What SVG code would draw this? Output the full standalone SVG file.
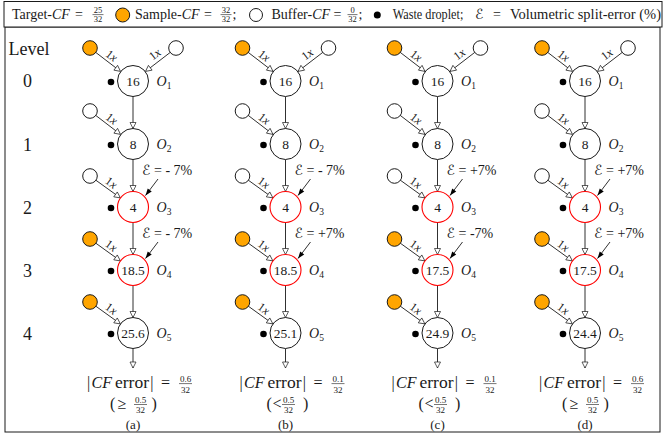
<svg xmlns="http://www.w3.org/2000/svg" width="664" height="434" viewBox="0 0 664 434" font-family="'Liberation Serif', 'Times New Roman', serif">
<style>
text{font-family:'Liberation Serif','Times New Roman',serif;fill:#1a1a1a}
.n{fill:#fff;stroke:#1a1a1a;stroke-width:1}
.r{fill:#fff;stroke:#f00;stroke-width:1.1}
.s{fill:#FFA500;stroke:#1a1a1a;stroke-width:1}
.b{fill:#fff;stroke:#1a1a1a;stroke-width:1}
.w{fill:#000}
.v{font-size:13.5px;text-anchor:middle}
.o{font-size:14px;font-style:italic}
.sub{font-size:9.5px;font-style:normal}
.lx{font-size:12px;text-anchor:middle}
.lv{font-size:18px;text-anchor:middle}
.e{font-size:14px}
.cal{font-family:'DejaVu Serif','DejaVu Sans',serif;font-style:italic}
.it{font-style:italic}
.f{font-size:9px;text-anchor:middle}
.fb{stroke:#1a1a1a;stroke-width:0.6}
.big{font-size:16px}
.cap{font-size:13px;text-anchor:middle}
.hd{font-size:14px}
.hf{font-size:8.5px;text-anchor:middle}
.c{stroke:#1a1a1a;stroke-width:0.9;fill:none}
.ca{marker-end:url(#open)}
.ce{marker-end:url(#fill)}
</style>
<defs>
<marker id="open" markerUnits="userSpaceOnUse" markerWidth="10" markerHeight="10" refX="6" refY="3" orient="auto" overflow="visible"><path d="M0,0 L6,3 L0,6 z" fill="#fff" stroke="#1a1a1a" stroke-width="0.7"/></marker>
<marker id="fill" markerUnits="userSpaceOnUse" markerWidth="10" markerHeight="10" refX="7" refY="2.5" orient="auto" overflow="visible"><path d="M0,0 L7,2.5 L0,5 z" fill="#000"/></marker>
</defs>
<rect x="5" y="27" width="655" height="405" fill="none" stroke="#1a1a1a" stroke-width="1"/>
<g id="legend">
<rect x="4" y="1.5" width="658" height="25.5" fill="#fff" stroke="#1a1a1a" stroke-width="1"/>
<text class="hd" x="12" y="19">Target-<tspan class="it">CF</tspan></text>
<text class="hd" x="75" y="19">=</text>
<text class="hf" x="98" y="12.5">25</text><line class="fb" x1="92.5" y1="14.6" x2="103.5" y2="14.6"/><text class="hf" x="98" y="22">32</text>
<circle class="s" cx="122.7" cy="15" r="7"/>
<text class="hd" x="135" y="19">Sample-<tspan class="it">CF</tspan></text>
<text class="hd" x="204" y="19">=</text>
<text class="hf" x="226" y="12.5">32</text><line class="fb" x1="220.5" y1="14.6" x2="231.5" y2="14.6"/><text class="hf" x="226" y="22">32</text>
<text class="hd" x="232.5" y="19">;</text>
<circle class="b" cx="256" cy="15" r="6.5"/>
<text class="hd" x="271.5" y="19">Buffer-<tspan class="it">CF</tspan></text>
<text class="hd" x="333.5" y="19">=</text>
<text class="hf" x="352.5" y="12.5">0</text><line class="fb" x1="347.5" y1="14.6" x2="357.5" y2="14.6"/><text class="hf" x="352.5" y="22">32</text>
<text class="hd" x="358.5" y="19">;</text>
<circle class="w" cx="377.3" cy="15" r="3.5"/>
<text class="hd" x="392.7" y="19" textLength="70.6" lengthAdjust="spacingAndGlyphs">Waste droplet;</text>
<text class="hd cal" x="475" y="19">ℰ</text>
<text class="hd" x="493" y="19">=</text>
<text class="hd" x="510" y="19" textLength="151" lengthAdjust="spacingAndGlyphs">Volumetric split-error (%)</text>
</g>
<g id="levels">
<text class="lv" x="29" y="55">Level</text>
<text class="lv" x="27.5" y="87">0</text>
<text class="lv" x="27.5" y="150.5">1</text>
<text class="lv" x="27.5" y="213.5">2</text>
<text class="lv" x="27.5" y="276.5">3</text>
<text class="lv" x="27.5" y="339.5">4</text>
</g>
<g id="connectors">
<g transform="translate(133,0)">
<line class="c ca" x1="-37.45" y1="52.26" x2="-12.5" y2="71.4"/>
<line class="c ca" x1="37.45" y1="52.26" x2="12.5" y2="71.4"/>
<line class="c ca" x1="-37.45" y1="115.26" x2="-12.5" y2="134.4"/>
<line class="c ca" x1="-37.3" y1="180.1" x2="-12.6" y2="197.9"/>
<line class="c ca" x1="-37.3" y1="243.1" x2="-12.6" y2="260.9"/>
<line class="c ca" x1="-37.3" y1="306.1" x2="-12.6" y2="323.9"/>
<line class="c ca" x1="0" y1="96.5" x2="0" y2="128.5"/>
<line class="c ca" x1="0" y1="159.5" x2="0" y2="191.5"/>
<line class="c ca" x1="0" y1="222.5" x2="0" y2="254.5"/>
<line class="c ca" x1="0" y1="285.5" x2="0" y2="317.5"/>
<line class="c ca" x1="0" y1="348.5" x2="0" y2="368"/>
<line class="c ce" x1="25" y1="179" x2="12.5" y2="195.5"/>
<line class="c ce" x1="25" y1="242" x2="12.5" y2="258.5"/>
<text class="lx" transform="translate(-22,56.5) rotate(37.5)" y="3"><tspan>1</tspan><tspan class="it">x</tspan></text>
<text class="lx" transform="translate(22.5,55) rotate(-37.5)" y="3"><tspan>1</tspan><tspan class="it">x</tspan></text>
<text class="lx" transform="translate(-22,119.5) rotate(37.5)" y="3"><tspan>1</tspan><tspan class="it">x</tspan></text>
<text class="lx" transform="translate(-22.3,183.5) rotate(35.8)" y="3"><tspan>1</tspan><tspan class="it">x</tspan></text>
<text class="lx" transform="translate(-22.3,246.5) rotate(35.8)" y="3"><tspan>1</tspan><tspan class="it">x</tspan></text>
<text class="lx" transform="translate(-22.3,309.5) rotate(35.8)" y="3"><tspan>1</tspan><tspan class="it">x</tspan></text>
<text class="e" x="9" y="175"><tspan class="cal">ℰ</tspan><tspan x="21">= - 7%</tspan></text>
<text class="e" x="9" y="238"><tspan class="cal">ℰ</tspan><tspan x="21">= - 7%</tspan></text>
</g>
<g transform="translate(285.5,0)">
<line class="c ca" x1="-37.45" y1="52.26" x2="-12.5" y2="71.4"/>
<line class="c ca" x1="37.45" y1="52.26" x2="12.5" y2="71.4"/>
<line class="c ca" x1="-37.45" y1="115.26" x2="-12.5" y2="134.4"/>
<line class="c ca" x1="-37.3" y1="180.1" x2="-12.6" y2="197.9"/>
<line class="c ca" x1="-37.3" y1="243.1" x2="-12.6" y2="260.9"/>
<line class="c ca" x1="-37.3" y1="306.1" x2="-12.6" y2="323.9"/>
<line class="c ca" x1="0" y1="96.5" x2="0" y2="128.5"/>
<line class="c ca" x1="0" y1="159.5" x2="0" y2="191.5"/>
<line class="c ca" x1="0" y1="222.5" x2="0" y2="254.5"/>
<line class="c ca" x1="0" y1="285.5" x2="0" y2="317.5"/>
<line class="c ca" x1="0" y1="348.5" x2="0" y2="368"/>
<line class="c ce" x1="25" y1="179" x2="12.5" y2="195.5"/>
<line class="c ce" x1="25" y1="242" x2="12.5" y2="258.5"/>
<text class="lx" transform="translate(-22,56.5) rotate(37.5)" y="3"><tspan>1</tspan><tspan class="it">x</tspan></text>
<text class="lx" transform="translate(22.5,55) rotate(-37.5)" y="3"><tspan>1</tspan><tspan class="it">x</tspan></text>
<text class="lx" transform="translate(-22,119.5) rotate(37.5)" y="3"><tspan>1</tspan><tspan class="it">x</tspan></text>
<text class="lx" transform="translate(-22.3,183.5) rotate(35.8)" y="3"><tspan>1</tspan><tspan class="it">x</tspan></text>
<text class="lx" transform="translate(-22.3,246.5) rotate(35.8)" y="3"><tspan>1</tspan><tspan class="it">x</tspan></text>
<text class="lx" transform="translate(-22.3,309.5) rotate(35.8)" y="3"><tspan>1</tspan><tspan class="it">x</tspan></text>
<text class="e" x="9" y="175"><tspan class="cal">ℰ</tspan><tspan x="21">= - 7%</tspan></text>
<text class="e" x="9" y="238"><tspan class="cal">ℰ</tspan><tspan x="21">= +7%</tspan></text>
</g>
<g transform="translate(437.5,0)">
<line class="c ca" x1="-37.45" y1="52.26" x2="-12.5" y2="71.4"/>
<line class="c ca" x1="37.45" y1="52.26" x2="12.5" y2="71.4"/>
<line class="c ca" x1="-37.45" y1="115.26" x2="-12.5" y2="134.4"/>
<line class="c ca" x1="-37.3" y1="180.1" x2="-12.6" y2="197.9"/>
<line class="c ca" x1="-37.3" y1="243.1" x2="-12.6" y2="260.9"/>
<line class="c ca" x1="-37.3" y1="306.1" x2="-12.6" y2="323.9"/>
<line class="c ca" x1="0" y1="96.5" x2="0" y2="128.5"/>
<line class="c ca" x1="0" y1="159.5" x2="0" y2="191.5"/>
<line class="c ca" x1="0" y1="222.5" x2="0" y2="254.5"/>
<line class="c ca" x1="0" y1="285.5" x2="0" y2="317.5"/>
<line class="c ca" x1="0" y1="348.5" x2="0" y2="368"/>
<line class="c ce" x1="25" y1="179" x2="12.5" y2="195.5"/>
<line class="c ce" x1="25" y1="242" x2="12.5" y2="258.5"/>
<text class="lx" transform="translate(-22,56.5) rotate(37.5)" y="3"><tspan>1</tspan><tspan class="it">x</tspan></text>
<text class="lx" transform="translate(22.5,55) rotate(-37.5)" y="3"><tspan>1</tspan><tspan class="it">x</tspan></text>
<text class="lx" transform="translate(-22,119.5) rotate(37.5)" y="3"><tspan>1</tspan><tspan class="it">x</tspan></text>
<text class="lx" transform="translate(-22.3,183.5) rotate(35.8)" y="3"><tspan>1</tspan><tspan class="it">x</tspan></text>
<text class="lx" transform="translate(-22.3,246.5) rotate(35.8)" y="3"><tspan>1</tspan><tspan class="it">x</tspan></text>
<text class="lx" transform="translate(-22.3,309.5) rotate(35.8)" y="3"><tspan>1</tspan><tspan class="it">x</tspan></text>
<text class="e" x="9" y="175"><tspan class="cal">ℰ</tspan><tspan x="21">= +7%</tspan></text>
<text class="e" x="9" y="238"><tspan class="cal">ℰ</tspan><tspan x="21">= -7%</tspan></text>
</g>
<g transform="translate(585,0)">
<line class="c ca" x1="-37.45" y1="52.26" x2="-12.5" y2="71.4"/>
<line class="c ca" x1="37.45" y1="52.26" x2="12.5" y2="71.4"/>
<line class="c ca" x1="-37.45" y1="115.26" x2="-12.5" y2="134.4"/>
<line class="c ca" x1="-37.3" y1="180.1" x2="-12.6" y2="197.9"/>
<line class="c ca" x1="-37.3" y1="243.1" x2="-12.6" y2="260.9"/>
<line class="c ca" x1="-37.3" y1="306.1" x2="-12.6" y2="323.9"/>
<line class="c ca" x1="0" y1="96.5" x2="0" y2="128.5"/>
<line class="c ca" x1="0" y1="159.5" x2="0" y2="191.5"/>
<line class="c ca" x1="0" y1="222.5" x2="0" y2="254.5"/>
<line class="c ca" x1="0" y1="285.5" x2="0" y2="317.5"/>
<line class="c ca" x1="0" y1="348.5" x2="0" y2="368"/>
<line class="c ce" x1="25" y1="179" x2="12.5" y2="195.5"/>
<line class="c ce" x1="25" y1="242" x2="12.5" y2="258.5"/>
<text class="lx" transform="translate(-22,56.5) rotate(37.5)" y="3"><tspan>1</tspan><tspan class="it">x</tspan></text>
<text class="lx" transform="translate(22.5,55) rotate(-37.5)" y="3"><tspan>1</tspan><tspan class="it">x</tspan></text>
<text class="lx" transform="translate(-22,119.5) rotate(37.5)" y="3"><tspan>1</tspan><tspan class="it">x</tspan></text>
<text class="lx" transform="translate(-22.3,183.5) rotate(35.8)" y="3"><tspan>1</tspan><tspan class="it">x</tspan></text>
<text class="lx" transform="translate(-22.3,246.5) rotate(35.8)" y="3"><tspan>1</tspan><tspan class="it">x</tspan></text>
<text class="lx" transform="translate(-22.3,309.5) rotate(35.8)" y="3"><tspan>1</tspan><tspan class="it">x</tspan></text>
<text class="e" x="9" y="175"><tspan class="cal">ℰ</tspan><tspan x="21">= +7%</tspan></text>
<text class="e" x="9" y="238"><tspan class="cal">ℰ</tspan><tspan x="21">= +7%</tspan></text>
</g>
</g>
<g id="col-a" transform="translate(133,0)">
<g id="a-in0s"><circle class="s" cx="-43" cy="48" r="7.3"/></g>
<g id="a-in0b"><circle class="b" cx="43" cy="48" r="7.3"/></g>
<g id="a-in1"><circle class="b" cx="-43" cy="111" r="7.3"/></g>
<g id="a-in2"><circle class="b" cx="-43" cy="176" r="7.3"/></g>
<g id="a-in3"><circle class="s" cx="-43" cy="239" r="7.3"/></g>
<g id="a-in4"><circle class="s" cx="-43" cy="302" r="7.3"/></g>
<g id="a-O1"><circle class="n" cx="0" cy="81" r="15.5"/><text class="v" x="0" y="85.5">16</text><circle class="w" cx="-22" cy="82" r="3.3"/><text class="o" x="23.5" y="86">O<tspan class="sub" dy="3">1</tspan></text></g>
<g id="a-O2"><circle class="n" cx="0" cy="144" r="15.5"/><text class="v" x="0" y="148.5">8</text><circle class="w" cx="-22" cy="145" r="3.3"/><text class="o" x="23.5" y="149">O<tspan class="sub" dy="3">2</tspan></text></g>
<g id="a-O3"><circle class="r" cx="0" cy="207" r="15.5"/><text class="v" x="0" y="211.5">4</text><circle class="w" cx="-22" cy="208" r="3.3"/><text class="o" x="23.5" y="212">O<tspan class="sub" dy="3">3</tspan></text></g>
<g id="a-O4"><circle class="r" cx="0" cy="270" r="15.5"/><text class="v" x="0" y="274.5">18.5</text><circle class="w" cx="-22" cy="271" r="3.3"/><text class="o" x="23.5" y="275">O<tspan class="sub" dy="3">4</tspan></text></g>
<g id="a-O5"><circle class="n" cx="0" cy="333" r="15.5"/><text class="v" x="0" y="337.5">25.6</text><circle class="w" cx="-22" cy="334" r="3.3"/><text class="o" x="23.5" y="338">O<tspan class="sub" dy="3">5</tspan></text></g>
<g id="a-res">
<text class="big" x="-46" y="388">|</text><text class="big it" x="-41.5" y="388">CF</text><text class="big" x="-18" y="388" textLength="34" lengthAdjust="spacingAndGlyphs">error</text><text class="big" x="17.3" y="388">|</text><text class="big" x="28" y="388">=</text>
<text class="f" x="52.5" y="381.5">0.6</text><line class="fb" x1="46" y1="383.6" x2="59" y2="383.6"/><text class="f" x="52.5" y="392.5">32</text>
<text class="big" x="-23" y="408.5">(</text><text class="big" x="-15.5" y="408.5">≥</text>
<text class="f" x="7.5" y="402.5">0.5</text><line class="fb" x1="1" y1="404.5" x2="14" y2="404.5"/><text class="f" x="7.5" y="413">32</text>
<text class="big" x="18.5" y="408.5">)</text>
<text class="cap" x="0" y="428.5">(a)</text>
</g>
</g>
<g id="col-b" transform="translate(285.5,0)">
<g id="b-in0s"><circle class="s" cx="-43" cy="48" r="7.3"/></g>
<g id="b-in0b"><circle class="b" cx="43" cy="48" r="7.3"/></g>
<g id="b-in1"><circle class="b" cx="-43" cy="111" r="7.3"/></g>
<g id="b-in2"><circle class="b" cx="-43" cy="176" r="7.3"/></g>
<g id="b-in3"><circle class="s" cx="-43" cy="239" r="7.3"/></g>
<g id="b-in4"><circle class="s" cx="-43" cy="302" r="7.3"/></g>
<g id="b-O1"><circle class="n" cx="0" cy="81" r="15.5"/><text class="v" x="0" y="85.5">16</text><circle class="w" cx="-22" cy="82" r="3.3"/><text class="o" x="23.5" y="86">O<tspan class="sub" dy="3">1</tspan></text></g>
<g id="b-O2"><circle class="n" cx="0" cy="144" r="15.5"/><text class="v" x="0" y="148.5">8</text><circle class="w" cx="-22" cy="145" r="3.3"/><text class="o" x="23.5" y="149">O<tspan class="sub" dy="3">2</tspan></text></g>
<g id="b-O3"><circle class="r" cx="0" cy="207" r="15.5"/><text class="v" x="0" y="211.5">4</text><circle class="w" cx="-22" cy="208" r="3.3"/><text class="o" x="23.5" y="212">O<tspan class="sub" dy="3">3</tspan></text></g>
<g id="b-O4"><circle class="r" cx="0" cy="270" r="15.5"/><text class="v" x="0" y="274.5">18.5</text><circle class="w" cx="-22" cy="271" r="3.3"/><text class="o" x="23.5" y="275">O<tspan class="sub" dy="3">4</tspan></text></g>
<g id="b-O5"><circle class="n" cx="0" cy="333" r="15.5"/><text class="v" x="0" y="337.5">25.1</text><circle class="w" cx="-22" cy="334" r="3.3"/><text class="o" x="23.5" y="338">O<tspan class="sub" dy="3">5</tspan></text></g>
<g id="b-res">
<text class="big" x="-46" y="388">|</text><text class="big it" x="-41.5" y="388">CF</text><text class="big" x="-18" y="388" textLength="34" lengthAdjust="spacingAndGlyphs">error</text><text class="big" x="17.3" y="388">|</text><text class="big" x="28" y="388">=</text>
<text class="f" x="52.5" y="381.5">0.1</text><line class="fb" x1="46" y1="383.6" x2="59" y2="383.6"/><text class="f" x="52.5" y="392.5">32</text>
<text class="big" x="-19" y="408.5">(</text><text class="big" x="-13" y="408.5">&lt;</text>
<text class="f" x="3" y="402.5">0.5</text><line class="fb" x1="-3.5" y1="404.5" x2="9.5" y2="404.5"/><text class="f" x="3" y="413">32</text>
<text class="big" x="17.5" y="408.5">)</text>
<text class="cap" x="0" y="428.5">(b)</text>
</g>
</g>
<g id="col-c" transform="translate(437.5,0)">
<g id="c-in0s"><circle class="s" cx="-43" cy="48" r="7.3"/></g>
<g id="c-in0b"><circle class="b" cx="43" cy="48" r="7.3"/></g>
<g id="c-in1"><circle class="b" cx="-43" cy="111" r="7.3"/></g>
<g id="c-in2"><circle class="b" cx="-43" cy="176" r="7.3"/></g>
<g id="c-in3"><circle class="s" cx="-43" cy="239" r="7.3"/></g>
<g id="c-in4"><circle class="s" cx="-43" cy="302" r="7.3"/></g>
<g id="c-O1"><circle class="n" cx="0" cy="81" r="15.5"/><text class="v" x="0" y="85.5">16</text><circle class="w" cx="-22" cy="82" r="3.3"/><text class="o" x="23.5" y="86">O<tspan class="sub" dy="3">1</tspan></text></g>
<g id="c-O2"><circle class="n" cx="0" cy="144" r="15.5"/><text class="v" x="0" y="148.5">8</text><circle class="w" cx="-22" cy="145" r="3.3"/><text class="o" x="23.5" y="149">O<tspan class="sub" dy="3">2</tspan></text></g>
<g id="c-O3"><circle class="r" cx="0" cy="207" r="15.5"/><text class="v" x="0" y="211.5">4</text><circle class="w" cx="-22" cy="208" r="3.3"/><text class="o" x="23.5" y="212">O<tspan class="sub" dy="3">3</tspan></text></g>
<g id="c-O4"><circle class="r" cx="0" cy="270" r="15.5"/><text class="v" x="0" y="274.5">17.5</text><circle class="w" cx="-22" cy="271" r="3.3"/><text class="o" x="23.5" y="275">O<tspan class="sub" dy="3">4</tspan></text></g>
<g id="c-O5"><circle class="n" cx="0" cy="333" r="15.5"/><text class="v" x="0" y="337.5">24.9</text><circle class="w" cx="-22" cy="334" r="3.3"/><text class="o" x="23.5" y="338">O<tspan class="sub" dy="3">5</tspan></text></g>
<g id="c-res">
<text class="big" x="-46" y="388">|</text><text class="big it" x="-41.5" y="388">CF</text><text class="big" x="-18" y="388" textLength="34" lengthAdjust="spacingAndGlyphs">error</text><text class="big" x="17.3" y="388">|</text><text class="big" x="28" y="388">=</text>
<text class="f" x="52.5" y="381.5">0.1</text><line class="fb" x1="46" y1="383.6" x2="59" y2="383.6"/><text class="f" x="52.5" y="392.5">32</text>
<text class="big" x="-19" y="408.5">(</text><text class="big" x="-13" y="408.5">&lt;</text>
<text class="f" x="3" y="402.5">0.5</text><line class="fb" x1="-3.5" y1="404.5" x2="9.5" y2="404.5"/><text class="f" x="3" y="413">32</text>
<text class="big" x="17.5" y="408.5">)</text>
<text class="cap" x="0" y="428.5">(c)</text>
</g>
</g>
<g id="col-d" transform="translate(585,0)">
<g id="d-in0s"><circle class="s" cx="-43" cy="48" r="7.3"/></g>
<g id="d-in0b"><circle class="b" cx="43" cy="48" r="7.3"/></g>
<g id="d-in1"><circle class="b" cx="-43" cy="111" r="7.3"/></g>
<g id="d-in2"><circle class="b" cx="-43" cy="176" r="7.3"/></g>
<g id="d-in3"><circle class="s" cx="-43" cy="239" r="7.3"/></g>
<g id="d-in4"><circle class="s" cx="-43" cy="302" r="7.3"/></g>
<g id="d-O1"><circle class="n" cx="0" cy="81" r="15.5"/><text class="v" x="0" y="85.5">16</text><circle class="w" cx="-22" cy="82" r="3.3"/><text class="o" x="23.5" y="86">O<tspan class="sub" dy="3">1</tspan></text></g>
<g id="d-O2"><circle class="n" cx="0" cy="144" r="15.5"/><text class="v" x="0" y="148.5">8</text><circle class="w" cx="-22" cy="145" r="3.3"/><text class="o" x="23.5" y="149">O<tspan class="sub" dy="3">2</tspan></text></g>
<g id="d-O3"><circle class="r" cx="0" cy="207" r="15.5"/><text class="v" x="0" y="211.5">4</text><circle class="w" cx="-22" cy="208" r="3.3"/><text class="o" x="23.5" y="212">O<tspan class="sub" dy="3">3</tspan></text></g>
<g id="d-O4"><circle class="r" cx="0" cy="270" r="15.5"/><text class="v" x="0" y="274.5">17.5</text><circle class="w" cx="-22" cy="271" r="3.3"/><text class="o" x="23.5" y="275">O<tspan class="sub" dy="3">4</tspan></text></g>
<g id="d-O5"><circle class="n" cx="0" cy="333" r="15.5"/><text class="v" x="0" y="337.5">24.4</text><circle class="w" cx="-22" cy="334" r="3.3"/><text class="o" x="23.5" y="338">O<tspan class="sub" dy="3">5</tspan></text></g>
<g id="d-res">
<text class="big" x="-46" y="388">|</text><text class="big it" x="-41.5" y="388">CF</text><text class="big" x="-18" y="388" textLength="34" lengthAdjust="spacingAndGlyphs">error</text><text class="big" x="17.3" y="388">|</text><text class="big" x="28" y="388">=</text>
<text class="f" x="52.5" y="381.5">0.6</text><line class="fb" x1="46" y1="383.6" x2="59" y2="383.6"/><text class="f" x="52.5" y="392.5">32</text>
<text class="big" x="-23" y="408.5">(</text><text class="big" x="-15.5" y="408.5">≥</text>
<text class="f" x="7.5" y="402.5">0.5</text><line class="fb" x1="1" y1="404.5" x2="14" y2="404.5"/><text class="f" x="7.5" y="413">32</text>
<text class="big" x="18.5" y="408.5">)</text>
<text class="cap" x="0" y="428.5">(d)</text>
</g>
</g>
</svg>
